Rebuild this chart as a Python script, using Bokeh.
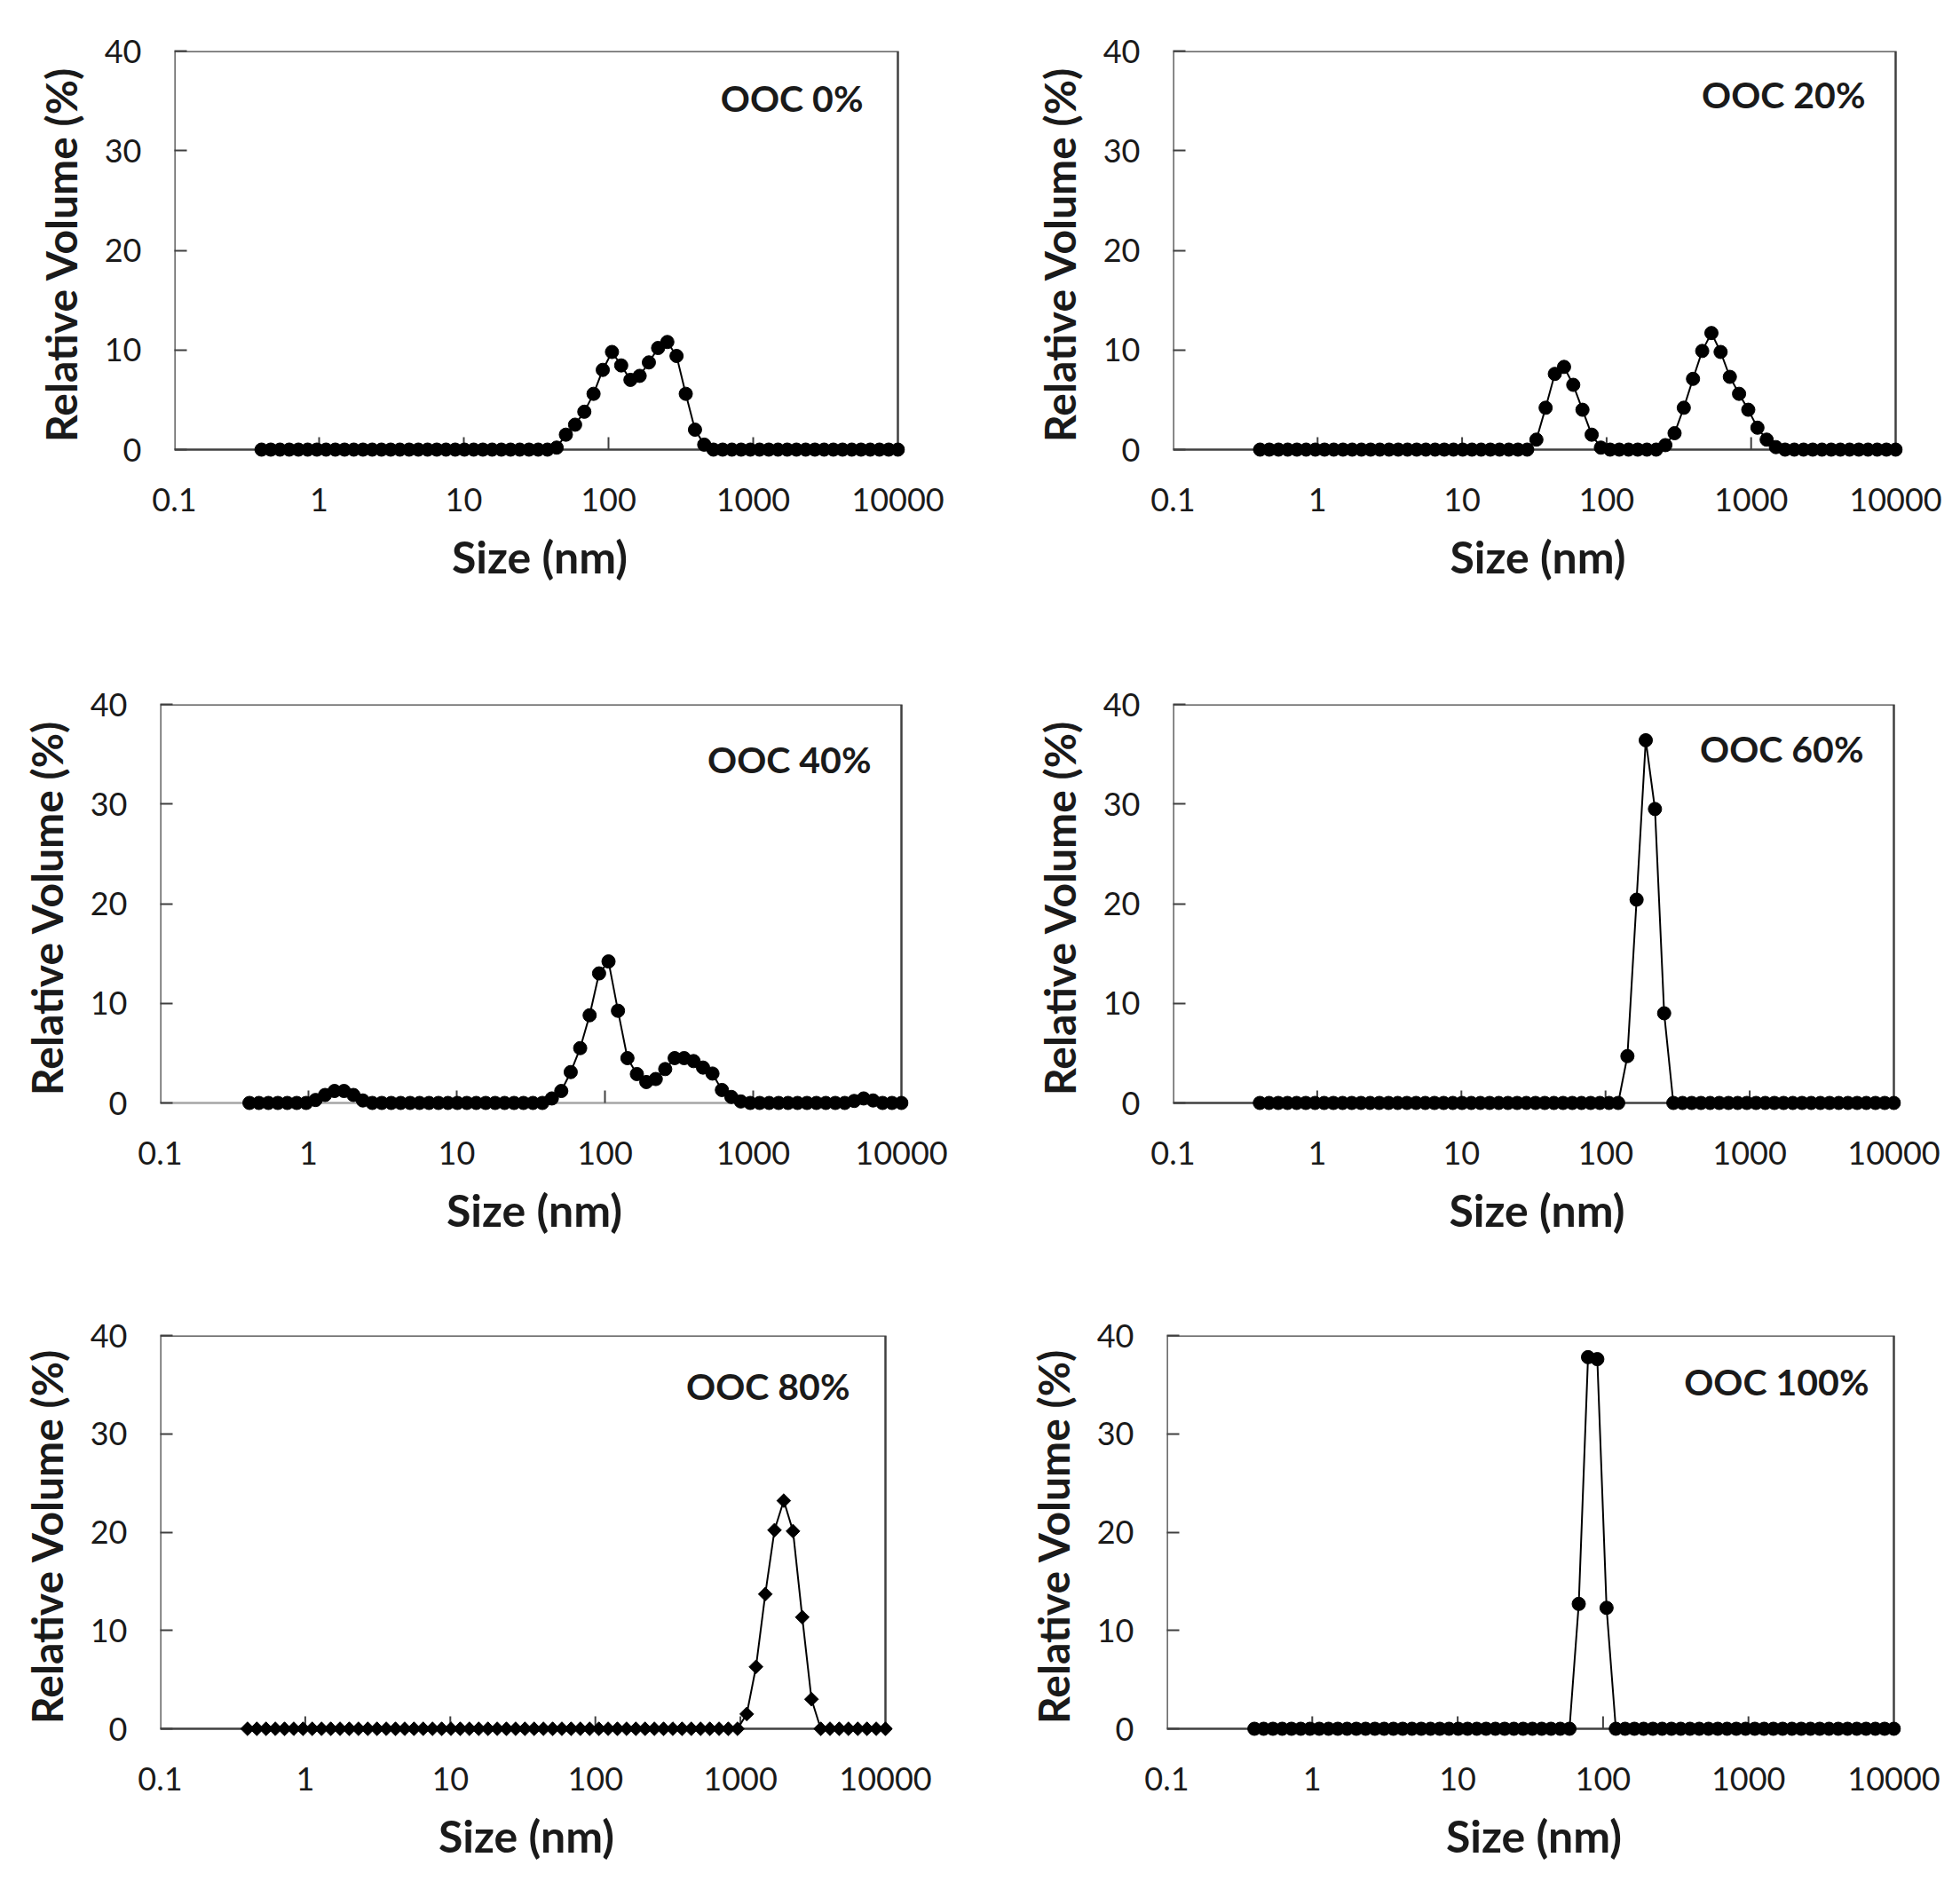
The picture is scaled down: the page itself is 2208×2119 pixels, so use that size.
from bokeh.plotting import figure
from bokeh.layouts import column, row
from bokeh.models import Range1d, FixedTicker, CustomJSTickFormatter, Label
from bokeh.embed import file_html
from bokeh.resources import INLINE

# size classes (nm)
sizes_nm = [
    0.4, 0.4632, 0.5365, 0.6213, 0.7195, 0.8332, 0.9649, 1.117, 1.294, 1.499,
    1.736, 2.01, 2.328, 2.696, 3.122, 3.615, 4.187, 4.849, 5.615, 6.503,
    7.531, 8.721, 10.1, 11.7, 13.54, 15.69, 18.17, 21.04, 24.36, 28.21,
    32.67, 37.84, 43.82, 50.75, 58.77, 68.06, 78.82, 91.28, 105.7, 122.4,
    141.8, 164.2, 190.1, 220.2, 255.0, 295.3, 342.0, 396.1, 458.7, 531.2,
    615.1, 712.4, 825.0, 955.4, 1106, 1281, 1484, 1718, 1990, 2305,
    2669, 3091, 3580, 4145, 4801, 5560, 6439, 7456, 8635, 10000]

# relative volume (%)
ooc_0 = [
    0, 0, 0, 0, 0, 0, 0, 0, 0, 0,
    0, 0, 0, 0, 0, 0, 0, 0, 0, 0,
    0, 0, 0, 0, 0, 0, 0, 0, 0, 0,
    0, 0, 0.2, 1.5, 2.5, 3.8, 5.6, 8.0, 9.8, 8.45,
    7.0, 7.4, 8.75, 10.2, 10.8, 9.4, 5.6, 2.0, 0.5, 0,
    0, 0, 0, 0, 0, 0, 0, 0, 0, 0,
    0, 0, 0, 0, 0, 0, 0, 0, 0, 0]
ooc_20 = [
    0, 0, 0, 0, 0, 0, 0, 0, 0, 0,
    0, 0, 0, 0, 0, 0, 0, 0, 0, 0,
    0, 0, 0, 0, 0, 0, 0, 0, 0, 0,
    1.0, 4.2, 7.6, 8.3, 6.5, 4.0, 1.5, 0.2, 0, 0,
    0, 0, 0, 0, 0.45, 1.65, 4.2, 7.1, 9.9, 11.7,
    9.8, 7.3, 5.6, 4.0, 2.2, 1.0, 0.25, 0, 0, 0,
    0, 0, 0, 0, 0, 0, 0, 0, 0, 0]
ooc_40 = [
    0, 0, 0, 0, 0, 0, 0, 0.3, 0.8, 1.2,
    1.2, 0.8, 0.25, 0, 0, 0, 0, 0, 0, 0,
    0, 0, 0, 0, 0, 0, 0, 0, 0, 0,
    0, 0, 0.45, 1.2, 3.1, 5.5, 8.8, 13.0, 14.2, 9.25,
    4.5, 2.9, 2.1, 2.4, 3.4, 4.5, 4.5, 4.2, 3.55, 2.95,
    1.3, 0.6, 0.15, 0, 0, 0, 0, 0, 0, 0,
    0, 0, 0, 0, 0.2, 0.45, 0.25, 0, 0, 0]
ooc_60 = [
    0, 0, 0, 0, 0, 0, 0, 0, 0, 0,
    0, 0, 0, 0, 0, 0, 0, 0, 0, 0,
    0, 0, 0, 0, 0, 0, 0, 0, 0, 0,
    0, 0, 0, 0, 0, 0, 0, 0, 0, 0,
    4.7, 20.4, 36.4, 29.5, 9.0, 0, 0, 0, 0, 0,
    0, 0, 0, 0, 0, 0, 0, 0, 0, 0,
    0, 0, 0, 0, 0, 0, 0, 0, 0, 0]
ooc_80 = [
    0, 0, 0, 0, 0, 0, 0, 0, 0, 0,
    0, 0, 0, 0, 0, 0, 0, 0, 0, 0,
    0, 0, 0, 0, 0, 0, 0, 0, 0, 0,
    0, 0, 0, 0, 0, 0, 0, 0, 0, 0,
    0, 0, 0, 0, 0, 0, 0, 0, 0, 0,
    0, 0, 0, 0, 1.5, 6.3, 13.7, 20.2, 23.2, 20.1,
    11.35, 3.0, 0, 0, 0, 0, 0, 0, 0, 0]
ooc_100 = [
    0, 0, 0, 0, 0, 0, 0, 0, 0, 0,
    0, 0, 0, 0, 0, 0, 0, 0, 0, 0,
    0, 0, 0, 0, 0, 0, 0, 0, 0, 0,
    0, 0, 0, 0, 0, 12.7, 37.8, 37.6, 12.3, 0,
    0, 0, 0, 0, 0, 0, 0, 0, 0, 0,
    0, 0, 0, 0, 0, 0, 0, 0, 0, 0,
    0, 0, 0, 0, 0, 0, 0, 0, 0, 0]

panel_labels = ["OOC 0%", "OOC 20%", "OOC 40%", "OOC 60%", "OOC 80%", "OOC 100%"]
x_ticks = [0.1, 1, 10, 100, 1000, 10000]
y_ticks = [0, 10, 20, 30, 40]

# page layout (px): frame left (0.1), frame right (10000); per row: y=40 line, y=0 line
frames_x = [(196, 1011), (1321, 2135), (180, 1015), (1321, 2133), (180, 997), (1314, 2133)]
rows_y = [(57, 506), (793, 1242), (1504, 1947)]
# label anchor (right edge, middle) in page px
label_px = [(972, 110), (2101, 106), (981, 855), (2099, 843), (957, 1561), (2105, 1556)]
row_edges = [0, 700, 1420, 2111]
col_edges = [0, 1110, 2200]
# the 40% panel has a lighter baseline
baseline_colors = ["#404040", "#404040", "#a6a6a6", "#404040", "#404040", "#404040"]

INK = "#404040"
FONT = "Lato"


def make_panel(k, values, marker):
    r, c = divmod(k, 2)
    left, right = frames_x[k]
    top, zero = rows_y[r]
    fw = right - left
    fh = zero - top
    pad_x, pad_y = 8, 9
    dec = fw / 5.0
    x_end = 10000 * 10 ** (pad_x / dec)
    y_start = -pad_y * 40.0 / fh

    p = figure(x_axis_type="log",
               x_range=Range1d(0.1, x_end), y_range=Range1d(y_start, 40),
               frame_width=fw + pad_x, frame_height=fh + pad_y,
               min_border_left=left - col_edges[c],
               min_border_right=col_edges[c + 1] - (right + pad_x),
               min_border_top=top - row_edges[r],
               min_border_bottom=row_edges[r + 1] - (zero + pad_y),
               output_backend="svg", toolbar_location=None)
    p.outline_line_color = None
    p.xgrid.visible = False
    p.ygrid.visible = False
    p.background_fill_color = "white"
    p.border_fill_color = "white"

    # frame box
    p.line(x=[0.1, 10000], y=[0, 0], line_color=baseline_colors[k], line_width=2.5)
    p.line(x=[10000, 10000, 0.1, 0.1], y=[0, 40, 40, 0],
           line_color=INK, line_width=2.5)
    # x ticks pointing inward from the baseline
    tick_len = 14 * 40.0 / fh
    inner = x_ticks[1:-1]
    p.segment(x0=inner, y0=[0] * len(inner), x1=inner, y1=[tick_len] * len(inner),
              line_color=INK, line_width=2)

    p.line(sizes_nm, values, line_color="black", line_width=2)
    if marker == "diamond":
        p.scatter(sizes_nm, values, marker="square", angle=0.785398, size=11,
                  fill_color="black", line_color="black")
    else:
        p.scatter(sizes_nm, values, marker="circle", size=15,
                  fill_color="black", line_color="black")

    xa = p.xaxis[0]
    xa.ticker = FixedTicker(ticks=x_ticks)
    xa.formatter = CustomJSTickFormatter(code="return tick.toString()")
    xa.axis_line_color = None
    xa.major_tick_line_color = None
    xa.minor_tick_line_color = None
    xa.major_label_standoff = 28
    xa.axis_label = "Size (nm)"
    xa.axis_label_standoff = 18
    xa.axis_label_text_font_size = "50px"

    ya = p.yaxis[0]
    ya.ticker = FixedTicker(ticks=y_ticks)
    ya.axis_line_color = None
    ya.major_tick_in = 14
    ya.major_tick_out = 0
    ya.major_tick_line_color = INK
    ya.major_tick_line_width = 2
    ya.minor_tick_line_color = None
    ya.major_label_standoff = 37
    ya.axis_label = "Relative Volume (%)"
    ya.axis_label_standoff = 18
    ya.axis_label_text_font_size = "48px"

    for ax in (xa, ya):
        ax.major_label_text_font = FONT
        ax.major_label_text_font_size = "36px"
        ax.major_label_text_color = "#1a1a1a"
        ax.axis_label_text_font = FONT
        ax.axis_label_text_font_style = "bold"
        ax.axis_label_text_color = "#1a1a1a"

    lx, ly = label_px[k]
    p.add_layout(Label(x=0.1 * 10 ** ((lx - left) / dec), y=40.0 * (zero - ly) / fh,
                       text=panel_labels[k], text_font=FONT, text_font_style="bold",
                       text_font_size="41px", text_color="#1a1a1a",
                       text_align="right", text_baseline="middle"))
    return p


series = [ooc_0, ooc_20, ooc_40, ooc_60, ooc_80, ooc_100]
panels = [make_panel(k, s, "diamond" if k == 4 else "circle") for k, s in enumerate(series)]

layout = column(row(panels[0], panels[1]), row(panels[2], panels[3]), row(panels[4], panels[5]))
open("out.html", "w").write(file_html(layout, INLINE))
